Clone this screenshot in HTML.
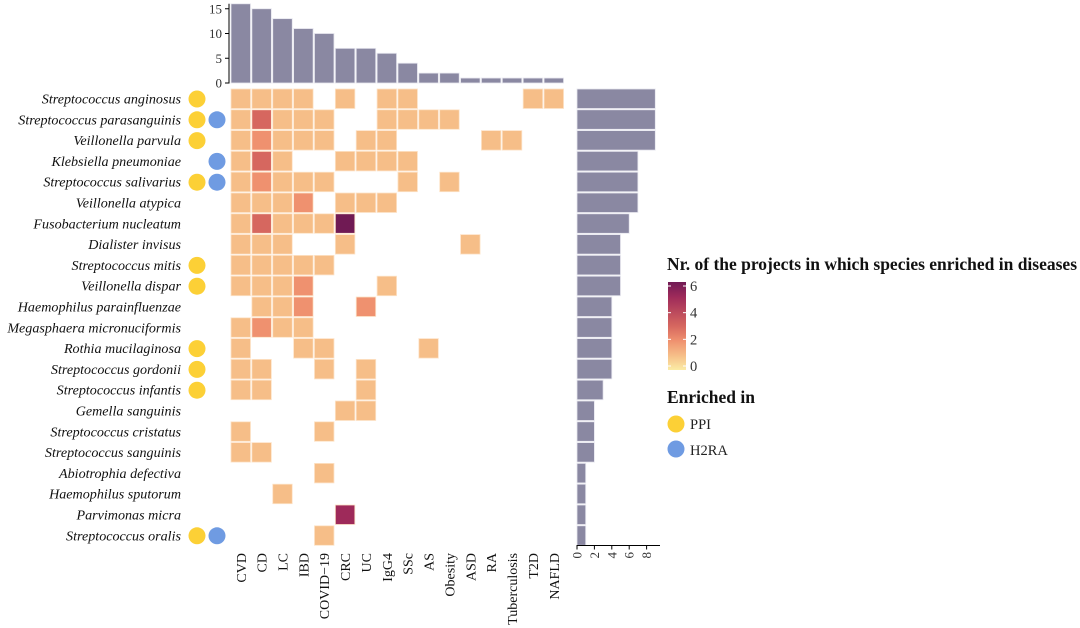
<!DOCTYPE html>
<html><head><meta charset="utf-8">
<style>
body{margin:0;background:#fff;}
svg{display:block;font-family:"Liberation Serif",serif;}
</style></head>
<body>
<svg id="chart" width="1080" height="628" viewBox="0 0 1080 628"></svg>
<script>
const diseases=["CVD","CD","LC","IBD","COVID−19","CRC","UC","IgG4","SSc","AS","Obesity","ASD","RA","Tuberculosis","T2D","NAFLD"];
const species=["Streptococcus anginosus","Streptococcus parasanguinis","Veillonella parvula","Klebsiella pneumoniae","Streptococcus salivarius","Veillonella atypica","Fusobacterium nucleatum","Dialister invisus","Streptococcus mitis","Veillonella dispar","Haemophilus parainfluenzae","Megasphaera micronuciformis","Rothia mucilaginosa","Streptococcus gordonii","Streptococcus infantis","Gemella sanguinis","Streptococcus cristatus","Streptococcus sanguinis","Abiotrophia defectiva","Haemophilus sputorum","Parvimonas micra","Streptococcus oralis"];
const matrix=[
[1,1,1,1,0,1,0,1,1,0,0,0,0,0,1,1],
[1,3,1,1,1,0,0,1,1,1,1,0,0,0,0,0],
[1,2,1,1,1,0,1,1,0,0,0,0,1,1,0,0],
[1,3,1,0,0,1,1,1,1,0,0,0,0,0,0,0],
[1,2,1,1,1,0,0,0,1,0,1,0,0,0,0,0],
[1,1,1,2,0,1,1,1,0,0,0,0,0,0,0,0],
[1,3,1,1,1,6,0,0,0,0,0,0,0,0,0,0],
[1,1,1,0,0,1,0,0,0,0,0,1,0,0,0,0],
[1,1,1,1,1,0,0,0,0,0,0,0,0,0,0,0],
[1,1,1,2,0,0,0,1,0,0,0,0,0,0,0,0],
[0,1,1,2,0,0,2,0,0,0,0,0,0,0,0,0],
[1,2,1,1,0,0,0,0,0,0,0,0,0,0,0,0],
[1,0,0,1,1,0,0,0,0,1,0,0,0,0,0,0],
[1,1,0,0,1,0,1,0,0,0,0,0,0,0,0,0],
[1,1,0,0,0,0,1,0,0,0,0,0,0,0,0,0],
[0,0,0,0,0,1,1,0,0,0,0,0,0,0,0,0],
[1,0,0,0,1,0,0,0,0,0,0,0,0,0,0,0],
[1,1,0,0,0,0,0,0,0,0,0,0,0,0,0,0],
[0,0,0,0,1,0,0,0,0,0,0,0,0,0,0,0],
[0,0,1,0,0,0,0,0,0,0,0,0,0,0,0,0],
[0,0,0,0,0,5,0,0,0,0,0,0,0,0,0,0],
[0,0,0,0,1,0,0,0,0,0,0,0,0,0,0,0]];
const diseaseTotals=[16,15,13,11,10,7,7,6,4,2,2,1,1,1,1,1];
const speciesTotals=[9,9,9,7,7,7,6,5,5,5,4,4,4,4,3,2,2,2,1,1,1,1];
const ppi=[1,1,1,0,1,0,0,0,1,1,0,0,1,1,1,0,0,0,0,0,0,1];
const h2ra=[0,1,0,1,1,0,0,0,0,0,0,0,0,0,0,0,0,0,0,0,0,1];
const topTicks=[0,5,10,15];
const rightTicks=[0,2,4,6,8];
const legendTicks=[0,2,4,6];

const NS="http://www.w3.org/2000/svg";
const svg=document.getElementById("chart");
function mk(tag,attrs,parent){const e=document.createElementNS(NS,tag);for(const k in attrs)e.setAttribute(k,attrs[k]);(parent||svg).appendChild(e);return e;}
const x0=231,pitch=20.87,cell=19.5,y0=89,rpitch=20.8;
const colX=i=>x0+i*pitch;
const rowY=j=>y0+j*rpitch;
const topY=v=>83-v*4.95;
const rightX=v=>577+v*8.7;
const stops=[[0,[251,236,165]],[1,[246,190,136]],[2,[239,145,111]],[3,[214,103,95]],[5,[158,42,90]],[6,[112,26,84]]];
function color(v){for(let i=0;i<stops.length-1;i++){const a=stops[i],b=stops[i+1];if(v<=b[0]){const t=(v-a[0])/(b[0]-a[0]);const c=a[1].map((q,k)=>Math.round(q+(b[1][k]-q)*t));return `rgb(${c})`;}}return "rgb(112,26,84)";}

// top bars
const topAxis=mk("g",{});


mk("line",{x1:229,y1:topY(16),x2:229,y2:83.5,stroke:"#000","stroke-width":1},topAxis);
topTicks.forEach(t=>{mk("line",{x1:225,x2:229,y1:topY(t),y2:topY(t),stroke:"#000"},topAxis);
 const tx=mk("text",{x:222,y:topY(t)+4.5,"text-anchor":"end","font-size":13,fill:"#333"},topAxis);tx.textContent=t;});
diseaseTotals.forEach((v,i)=>{const r=mk("rect",{x:colX(i),y:topY(v),width:cell,height:83-topY(v),fill:"#8a88a2",stroke:"#e6e6ee","stroke-width":0.8});
 
 });

// heatmap
matrix.forEach((row,j)=>row.forEach((v,i)=>{if(!v)return;
 const r=mk("rect",{x:colX(i),y:rowY(j),width:cell,height:cell,fill:color(v),stroke:"#fde3c8","stroke-width":0.8});
 
 }));

// species labels and dots
species.forEach((s,j)=>{const t=mk("text",{x:181,y:rowY(j)+14.5,"text-anchor":"end","font-size":14.1,"font-style":"italic",fill:"#111"});t.textContent=s;
 
 
 if(ppi[j]){const c=mk("circle",{cx:197,cy:rowY(j)+10,r:8.5,fill:"#fcd036"});
  
  }
 if(h2ra[j]){const c=mk("circle",{cx:217,cy:rowY(j)+10,r:8.5,fill:"#6f9be2"});
  
  }
});

// disease labels
diseases.forEach((d,i)=>{const cx=colX(i)+cell/2+5;const t=mk("text",{x:0,y:0,transform:`translate(${cx},553) rotate(-90)`,"text-anchor":"end","font-size":14,fill:"#111"});t.textContent=d;
 
 });

// right bars
speciesTotals.forEach((v,j)=>{const r=mk("rect",{x:577,y:rowY(j),width:rightX(v)-577,height:cell,fill:"#8a88a2",stroke:"#e6e6ee","stroke-width":0.8});
 
 });
const rAxis=mk("g",{});


mk("line",{x1:576.5,x2:660,y1:545.5,y2:545.5,stroke:"#000"},rAxis);
rightTicks.forEach(t=>{mk("line",{x1:rightX(t),x2:rightX(t),y1:545.5,y2:549.5,stroke:"#000"},rAxis);
 const tx=mk("text",{x:0,y:0,transform:`translate(${rightX(t)+4.5},552) rotate(-90)`,"text-anchor":"end","font-size":13,fill:"#333"},rAxis);tx.textContent=t;});

// legend
const lg=mk("g",{});


const lt=mk("text",{x:667,y:270,"font-size":17.5,"font-weight":"bold",fill:"#111",textLength:410},lg);lt.textContent="Nr. of the projects in which species enriched in diseases";
const defs=mk("defs",{});
const gr=mk("linearGradient",{id:"cg",x1:0,y1:1,x2:0,y2:0},defs);
[0,1,2,3,5,6].forEach(v=>mk("stop",{offset:v/6,"stop-color":color(v)},gr));
const cbTop=282,cbBot=370;
const cb=mk("rect",{x:668,y:cbTop,width:18,height:cbBot-cbTop,fill:"url(#cg)"},lg);


const cby=v=>366-v*(366-286)/6;
legendTicks.forEach(t=>{mk("line",{x1:668,x2:671,y1:cby(t),y2:cby(t),stroke:"#fff"},lg);mk("line",{x1:683,x2:686,y1:cby(t),y2:cby(t),stroke:"#fff"},lg);
 const tx=mk("text",{x:690,y:cby(t)+5,"font-size":14.5,fill:"#333"},lg);tx.textContent=t;});
const et=mk("text",{x:667,y:403,"font-size":17.5,"font-weight":"bold",fill:"#111"},lg);et.textContent="Enriched in";
const c1=mk("circle",{cx:676,cy:424,r:8.5,fill:"#fcd036"},lg);


const p1=mk("text",{x:690,y:429,"font-size":14.5,fill:"#222"},lg);p1.textContent="PPI";
const c2=mk("circle",{cx:676,cy:449,r:8.5,fill:"#6f9be2"},lg);


const p2=mk("text",{x:690,y:455,"font-size":14.5,fill:"#222"},lg);p2.textContent="H2RA";
</script>
</body></html>
